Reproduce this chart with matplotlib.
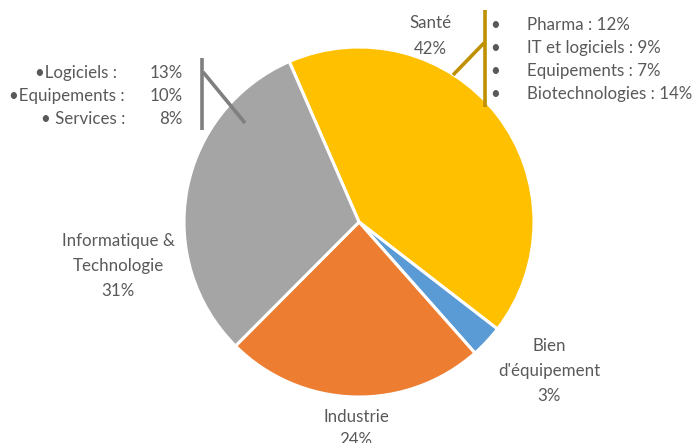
import matplotlib
matplotlib.use("Agg")
import matplotlib.pyplot as plt

categories = ["Santé", "Bien d'équipement", "Industrie", "Informatique & Technologie"]
values = [42, 3, 24, 31]
colors = ["#FFC000", "#5B9BD5", "#ED7D31", "#A5A5A5"]

sante_sub = ["Pharma", "IT et logiciels", "Equipements", "Biotechnologies"]
sante_sub_vals = [12, 9, 7, 14]
info_sub = ["•Logiciels :", "•Equipements :", "• Services :"]
info_sub_vals = [13, 10, 8]

W, H = 695, 443
fig = plt.figure(figsize=(W / 100, H / 100), dpi=100)
ax = fig.add_axes([0, 0, 1, 1])
plt.rcParams['font.family'] = ['Lato', 'DejaVu Sans']
TXT = "#595959"
FS = 12.2
LS = 1.72

def Y(y):
    return H - y

ax.pie(values, colors=colors, startangle=113.5, counterclock=False,
       center=(359, Y(222)), radius=175,
       wedgeprops=dict(edgecolor="white", linewidth=2.2))
ax.set_xlim(0, W)
ax.set_ylim(0, H)
ax.set_aspect('equal')
ax.axis('off')

# main labels
ax.text(430, Y(36), "Santé\n42%", ha='center', va='center', fontsize=FS, color=TXT, linespacing=LS)
ax.text(118, Y(266), "Informatique &\nTechnologie\n31%", ha='center', va='center', fontsize=FS, color=TXT, linespacing=LS)
ax.text(549, Y(371), "Bien\nd'équipement\n3%", ha='center', va='center', fontsize=FS, color=TXT, linespacing=LS)
ax.text(356, Y(417), "Industrie", ha='center', va='center', fontsize=FS, color=TXT)
ax.text(356, Y(440), "24%", ha='center', va='center', fontsize=FS, color=TXT)

# Santé breakdown
ax.plot([485, 485], [Y(10), Y(107)], color="#BF9000", lw=2.6, solid_capstyle='butt')
ax.plot([484, 453], [Y(43), Y(75)], color="#BF9000", lw=2.6, solid_capstyle='butt')
for i, (n, v) in enumerate(zip(sante_sub, sante_sub_vals)):
    yy = Y(25 + 23 * i)
    ax.text(495, yy, "•", ha='center', va='center', fontsize=FS, color=TXT)
    ax.text(527, yy, f"{n} : {v}%", ha='left', va='center', fontsize=FS, color=TXT)

# Informatique breakdown
ax.plot([202, 202], [Y(58), Y(130)], color="#7F7F7F", lw=2.6, solid_capstyle='butt')
ax.plot([203, 245], [Y(72), Y(123)], color="#7F7F7F", lw=2.6, solid_capstyle='butt')
right_edges = [117, 125, 125]
for i, (n, v) in enumerate(zip(info_sub, info_sub_vals)):
    yy = Y(73 + 23 * i)
    ax.text(right_edges[i], yy, n, ha='right', va='center', fontsize=FS, color=TXT)
    ax.text(183, yy, f"{v}%", ha='right', va='center', fontsize=FS, color=TXT)

fig.savefig("out.png", dpi=100)
